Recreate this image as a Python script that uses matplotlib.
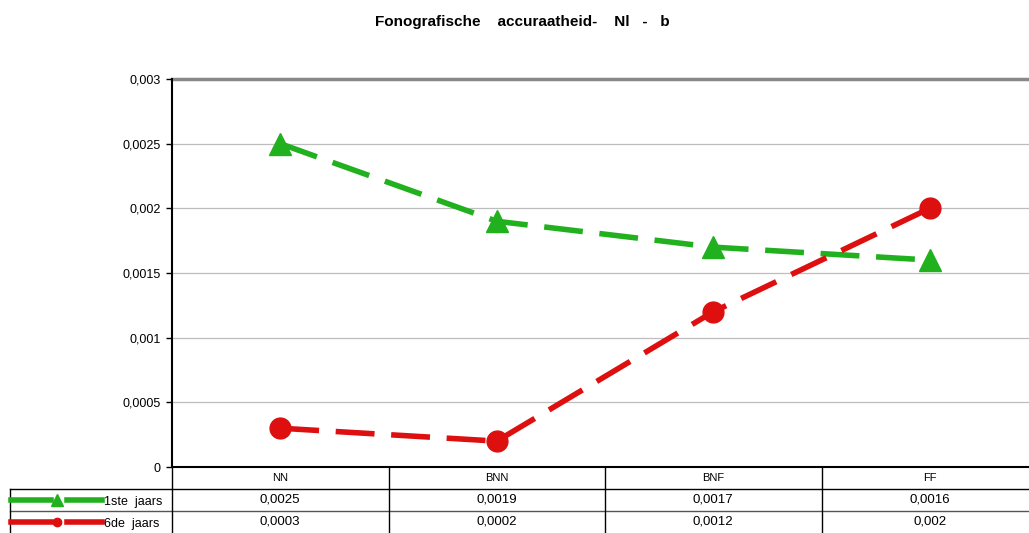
import matplotlib
matplotlib.use("Agg")
import matplotlib.pyplot as plt
from matplotlib.lines import Line2D
import matplotlib.transforms as mtrans

categories = ["NN", "BNN", "BNF", "FF"]
series_names = ["1ste  jaars", "6de  jaars"]
vals_1ste = [0.0025, 0.0019, 0.0017, 0.0016]
vals_6de = [0.0003, 0.0002, 0.0012, 0.0020]
labels_1ste = ["0,0025", "0,0019", "0,0017", "0,0016"]
labels_6de = ["0,0003", "0,0002", "0,0012", "0,002"]
yticks = [0, 0.0005, 0.001, 0.0015, 0.002, 0.0025, 0.003]
ytick_labels = ["0", "0,0005", "0,001", "0,0015", "0,002", "0,0025", "0,003"]

W, H = 1029, 533
fig = plt.figure(figsize=(W/100, H/100), dpi=100)
plt.rcParams['font.family'] = ['Liberation Sans', 'DejaVu Sans']

def fx(px): return px / W
def fy(py): return 1 - py / H

left, right, top, bottom = 172, 1038, 79, 467
ax = fig.add_axes([fx(left), fy(bottom), fx(right) - fx(left), fy(top) - fy(bottom)])
ax.set_xlim(-0.5, 3.5)
ax.set_ylim(0, 0.003)
x = list(range(len(categories)))

green = "#22B11E"
red = "#DD0F0F"
for v in yticks[1:-1]:
    ax.axhline(v, color="#BDBDBD", lw=0.9, zorder=0)
ax.axhline(0.003, color="#888888", lw=2.5, zorder=0, clip_on=False)
ax.plot(x, vals_1ste, color=green, lw=4, dashes=(7, 3), marker="^", ms=16,
        markeredgecolor=green, markerfacecolor=green, zorder=3)
ax.plot(x, vals_6de, color=red, lw=4, dashes=(7, 3), marker="o", ms=15,
        markeredgecolor=red, markerfacecolor=red, zorder=3)

for s in ["top", "right"]:
    ax.spines[s].set_visible(False)
ax.spines["left"].set_linewidth(1.5)
ax.spines["bottom"].set_linewidth(1.5)
ax.set_yticks(yticks)
ax.set_yticklabels(ytick_labels, fontsize=9)
ax.tick_params(axis="y", length=4, width=1, pad=4)
ax.set_xticks([])

fig.text(fx(375), fy(22), "Fonografische    accuraatheid-    Nl   -   b",
         fontsize=11, fontweight="bold", ha="left", va="center")

# table
tr = mtrans.blended_transform_factory(ax.transData, fig.transFigure)
row_y = [478, 500, 522]
lw_t = 1.0
fig.add_artist(Line2D([fx(10), 1.0], [fy(489), fy(489)], color="black", lw=lw_t))
fig.add_artist(Line2D([fx(10), 1.0], [fy(511), fy(511)], color="#555555", lw=lw_t))
fig.add_artist(Line2D([fx(10), fx(10)], [fy(489), 0], color="black", lw=lw_t))
fig.add_artist(Line2D([fx(left), fx(left)], [fy(467), 0], color="black", lw=lw_t))
for i in range(len(categories) - 1):
    xv = i + 0.5
    fig.add_artist(Line2D([xv, xv], [fy(467), 0], color="black", lw=lw_t, transform=tr))

for i, c in enumerate(categories):
    fig.text(i, fy(row_y[0]), c, transform=tr, ha="center", va="center", fontsize=8)
    fig.text(i, fy(row_y[1]), labels_1ste[i], transform=tr, ha="center", va="center", fontsize=9.5)
    fig.text(i, fy(row_y[2]), labels_6de[i], transform=tr, ha="center", va="center", fontsize=9.5)

for name, col, mk, yy in [(series_names[0], green, "^", row_y[1]), (series_names[1], red, "o", row_y[2])]:
    fig.add_artist(Line2D([fx(11), fx(51)], [fy(yy), fy(yy)], color=col, lw=4))
    fig.add_artist(Line2D([fx(67), fx(102)], [fy(yy), fy(yy)], color=col, lw=4))
    fig.add_artist(Line2D([fx(57)], [fy(yy)], color=col, marker=mk, ms=8 if mk == "^" else 6,
                          markeredgecolor=col, markerfacecolor=col, lw=0))
    fig.text(fx(104), fy(yy + 2), name, ha="left", va="center", fontsize=9)

fig.savefig("out.png", dpi=100)
